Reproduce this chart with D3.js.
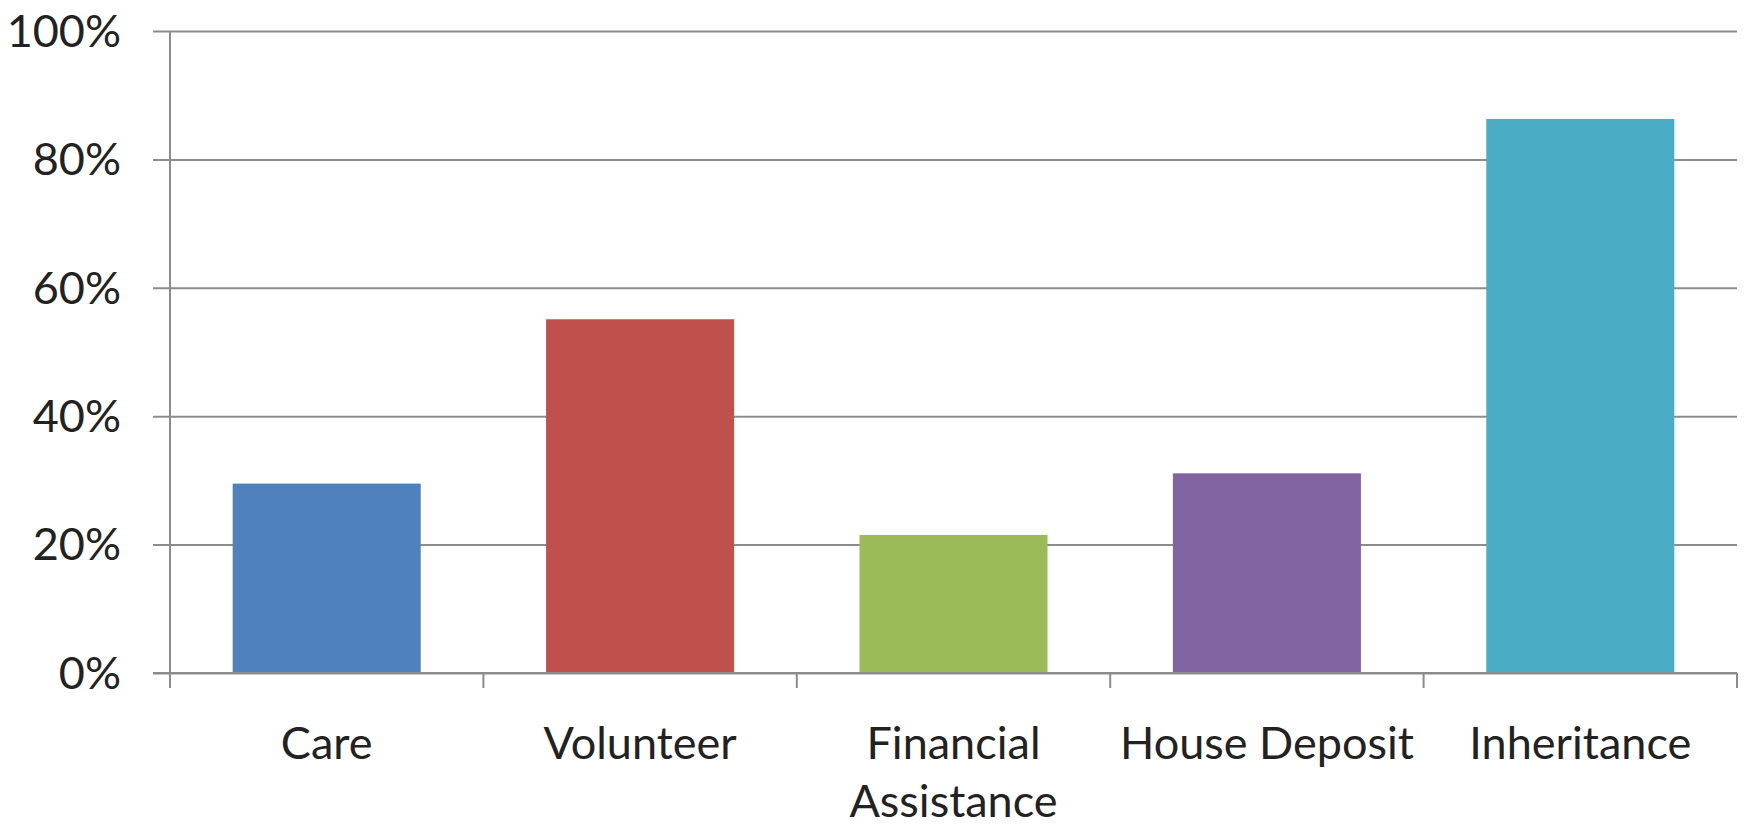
<!DOCTYPE html>
<html><head><meta charset="utf-8">
<script src="https://cdn.jsdelivr.net/npm/d3@7"></script>
<style>body{margin:0;background:#fff}svg{display:block}</style>
</head><body>
<script>
const categories = ["Care", "Volunteer", "Financial Assistance", "House Deposit", "Inheritance"];
const categoryLines = [["Care"], ["Volunteer"], ["Financial", "Assistance"], ["House Deposit"], ["Inheritance"]];
const values = [0.295, 0.551, 0.215, 0.311, 0.863];
const colors = ["#4F81BD", "#C0504D", "#9BBB59", "#8064A2", "#4BACC6"];
const yTicks = [0, 0.2, 0.4, 0.6, 0.8, 1.0];

const W = 1748, H = 826;
const m = {left: 170, right: 11, top: 31, bottom: 153};
const font = "Lato, 'Open Sans', sans-serif";
const fs = 45;

const svg = d3.select("body").append("svg").attr("width", W).attr("height", H);
const x = d3.scaleBand().domain(categories).range([m.left, W - m.right]).paddingInner(0.4).paddingOuter(0.2);
const y = d3.scaleLinear().domain([0, 1]).range([H - m.bottom, m.top]);

const grid = "#8c8c8c";
const ya = svg.append("g").attr("transform", `translate(${m.left},0)`)
  .call(d3.axisLeft(y).tickValues(yTicks).tickFormat(d3.format(".0%")).tickSize(-(W - m.right - m.left)).tickSizeOuter(0).tickPadding(0));
ya.select(".domain").remove();
ya.selectAll(".tick line").attr("stroke", grid).attr("stroke-width", 2).attr("x1", -17);
ya.selectAll(".tick text").attr("x", -49).attr("font-family", font).attr("font-size", fs).attr("fill", "#222").attr("dy", "0.34em");
svg.append("line").attr("x1", m.left).attr("x2", m.left).attr("y1", y(1)).attr("y2", y(0)).attr("stroke", grid).attr("stroke-width", 2);

svg.selectAll("rect.bar").data(categories).join("rect").attr("class", "bar")
  .attr("x", d => x(d)).attr("width", x.bandwidth())
  .attr("y", (d, i) => y(values[i])).attr("height", (d, i) => y(0) - y(values[i]))
  .attr("fill", (d, i) => colors[i]);

const step = x.step();
const bounds = categories.map((d, i) => m.left + i * step).concat([W - m.right]);
svg.append("line").attr("x1", m.left - 17).attr("x2", W - m.right).attr("y1", y(0)).attr("y2", y(0)).attr("stroke", grid).attr("stroke-width", 2);
svg.selectAll("line.xt").data(bounds).join("line").attr("class", "xt")
  .attr("x1", d => d).attr("x2", d => d).attr("y1", y(0)).attr("y2", y(0) + 15).attr("stroke", grid).attr("stroke-width", 2);

const lbl = svg.selectAll("text.cat").data(categories).join("text").attr("class", "cat")
  .attr("x", d => x(d) + x.bandwidth() / 2).attr("y", 759)
  .attr("text-anchor", "middle").attr("font-family", font).attr("font-size", fs).attr("fill", "#222");
lbl.each(function(d, i) {
  const t = d3.select(this);
  categoryLines[i].forEach((ln, j) => {
    t.append("tspan").attr("x", x(d) + x.bandwidth() / 2).attr("dy", j === 0 ? 0 : 58).text(ln);
  });
});
</script>
</body></html>
